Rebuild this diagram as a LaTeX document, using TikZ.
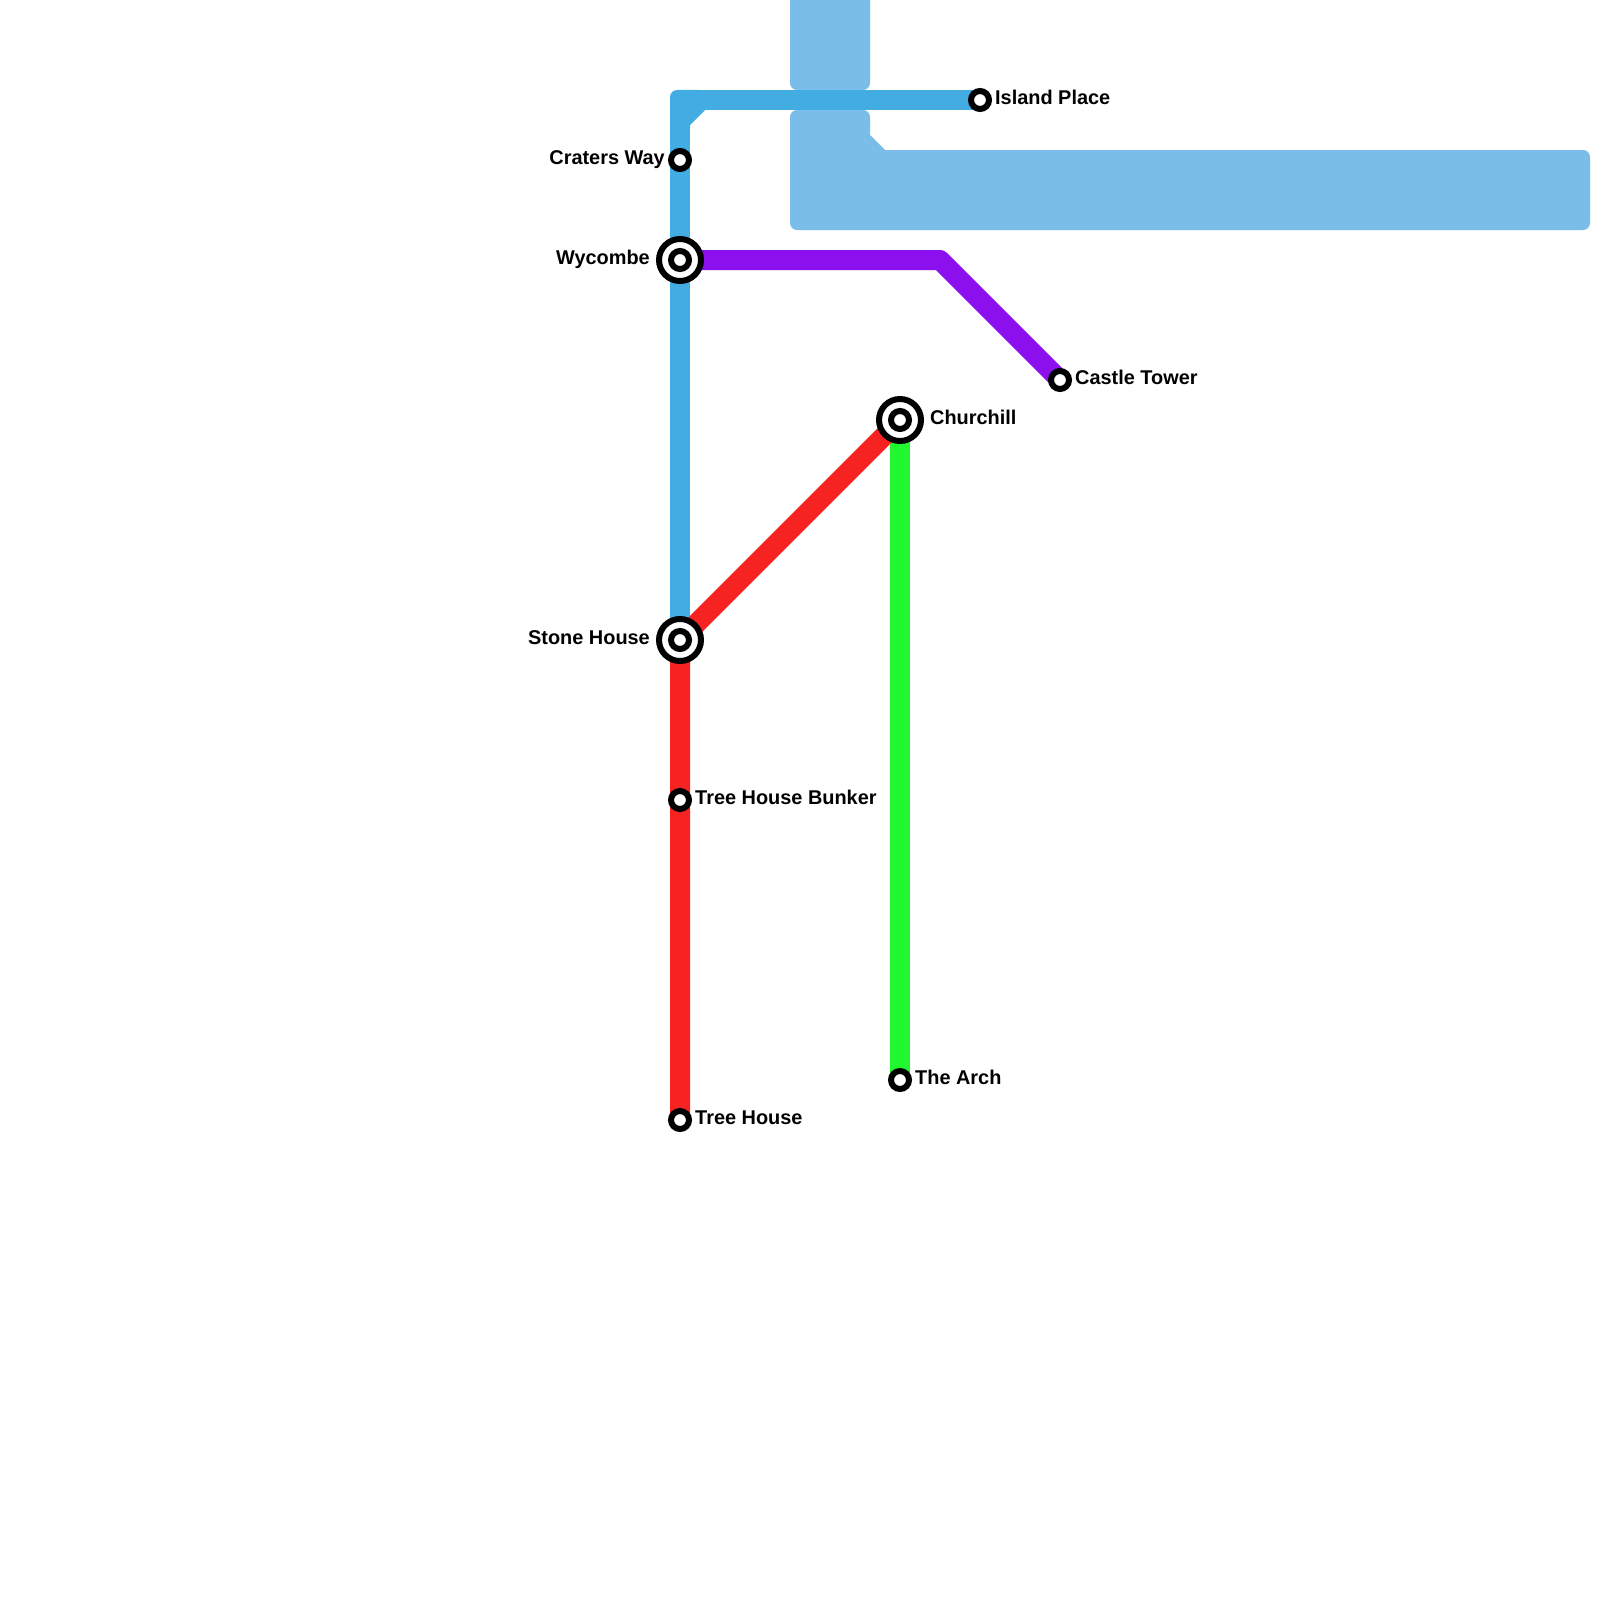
\documentclass[tikz,border=0pt]{standalone}
\usepackage{fontspec}
\usetikzlibrary{backgrounds}
\setmainfont{Liberation Sans}
\definecolor{water}{HTML}{7ABDE8}
\definecolor{blueline}{HTML}{43ADE3}
\definecolor{redline}{HTML}{F72323}
\definecolor{greenline}{HTML}{21F72E}
\definecolor{purpleline}{HTML}{8C10ED}
\tikzset{
  metro/.style={line width=20pt,line cap=butt,line join=round},
  stn/.style={circle,draw=black,fill=white,line width=6pt,minimum size=18pt,inner sep=0pt},
  ich/.style={circle,draw=black,fill=white,line width=6pt,minimum size=42pt,inner sep=0pt},
  lab/.style={inner sep=0pt,font=\fontsize{19.9}{20}\selectfont\bfseries,text=black},
  labr/.style={lab,anchor=base west},
  labl/.style={lab,anchor=base east},
}
\begin{document}
\begin{tikzpicture}[x=1pt,y=-1pt]
\useasboundingbox (0,0) rectangle (1600,1600);
% stations
\node[stn] (island) at (980,100) {};
\node[stn] (craters) at (680,160) {};
\node[ich] (wycombe) at (680,260) {};
\node[stn] (wycombedot) at (680,260) {};
\node[ich] (stone) at (680,640) {};
\node[stn] (stonedot) at (680,640) {};
\node[ich] (churchill) at (900,420) {};
\node[stn] (churchilldot) at (900,420) {};
\node[stn] (castle) at (1060,380) {};
\node[stn] (bunker) at (680,800) {};
\node[stn] (treehouse) at (680,1120) {};
\node[stn] (arch) at (900,1080) {};
\coordinate (bluecorner) at (680,100);
\coordinate (purplecorner) at (940,260);
\begin{scope}[on background layer]
% water
\fill[water,rounded corners=7pt] (790,-20) -- (870,-20) -- (870,90) -- (790,90) -- cycle;
\fill[water,rounded corners=7pt] (790,110) -- (870,110) [sharp corners] -- (870,135) -- (885,150) [rounded corners=7pt] -- (1590,150) -- (1590,230) -- (790,230) -- cycle;
% lines
\draw[metro,blueline] (island.center) -- (bluecorner) -- (stone.center);
\fill[blueline] (670,128) [rounded corners=7pt] -- (670,90) -- (705,90) [sharp corners] -- (705,110) -- (690,125) -- (690,128) -- cycle;
\draw[metro,purpleline] (wycombe.center) -- (purplecorner) -- (castle.center);
\draw[metro,greenline] (churchill.center) -- (arch.center);
\draw[metro,redline] (treehouse.center) -- (stone.center) -- (churchill.center);
\end{scope}
% labels
\node[labr] (lisland) at (995,104.8) {Island Place};
\node[labl] (lcraters) at (665,164.8) {Craters Way};
\node[labl] (lwycombe) at (650,264.8) {Wycombe};
\node[labl] (lstone) at (650,644.8) {Stone House};
\node[labr] (lchurchill) at (930,424.8) {Churchill};
\node[labr] (lcastle) at (1075,384.8) {Castle Tower};
\node[labr] (lbunker) at (695,804.8) {Tree House Bunker};
\node[labr] (ltreehouse) at (695,1124.8) {Tree House};
\node[labr] (larch) at (915,1084.8) {The Arch};
\end{tikzpicture}
\end{document}
